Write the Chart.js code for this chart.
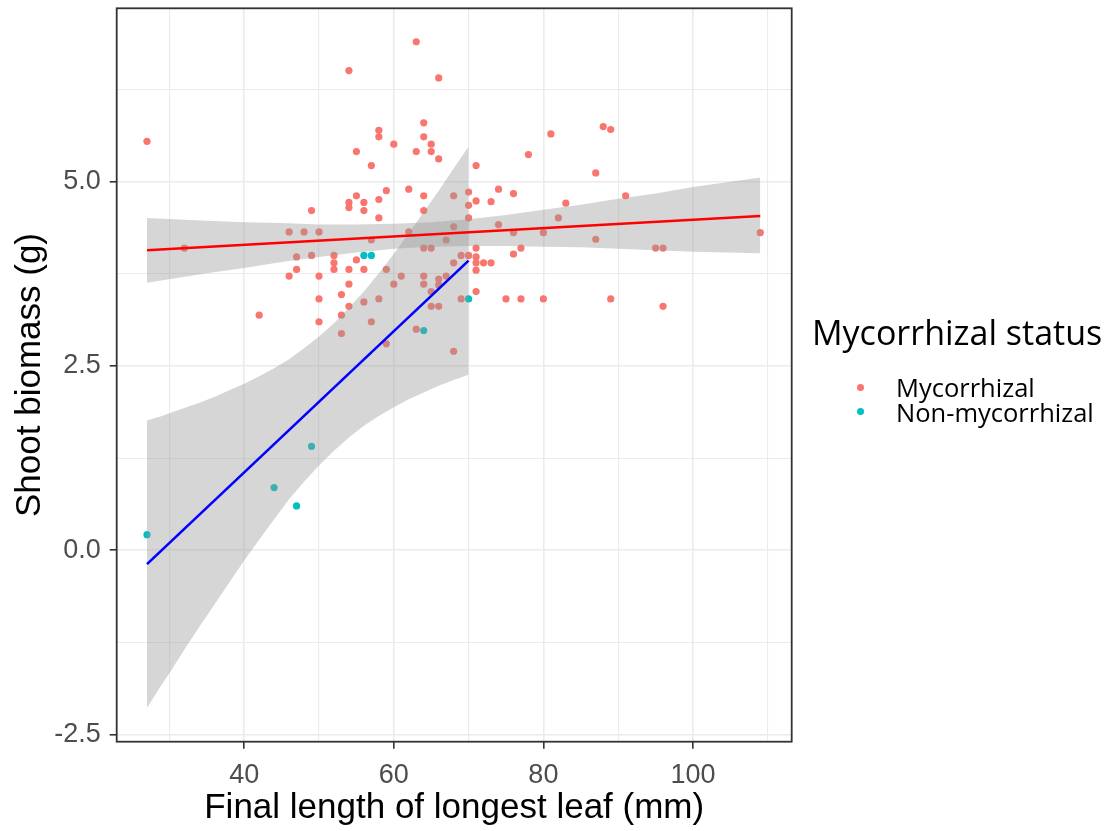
<!DOCTYPE html>
<html>
<head>
<meta charset="utf-8">
<title>Shoot biomass vs final length of longest leaf</title>
<script src="https://cdn.jsdelivr.net/npm/chart.js@4/dist/chart.umd.min.js"></script>
<style>
  html, body { margin: 0; padding: 0; background: #ffffff; }
  #wrap { position: relative; width: 1104px; height: 831px; overflow: hidden; }
  #chart { position: absolute; left: 0; top: 0; }
  #legend { position: absolute; left: 0; top: 0; width: 1104px; height: 831px; pointer-events: none;
            font-family: "Open Sans", "Noto Sans", sans-serif; color: #000000; }
  #legend .title { position: absolute; left: 812px; top: 315px; font-size: 34px; line-height: 34px; white-space: nowrap; }
  #legend .item { position: absolute; left: 896px; font-size: 25.5px; line-height: 25.5px; white-space: nowrap; }
  #legend .dot { position: absolute; width: 7px; height: 7px; border-radius: 50%; }
</style>
</head>
<body>
<div id="wrap">
  <canvas id="chart" width="1104" height="831"></canvas>
  <div id="legend"></div>
</div>
<script>
// Group names and colours
const groupNames = ['Mycorrhizal', 'Non-mycorrhizal'];
const groupColours = ['#F8766D', '#00BFC4'];
const legendTitle = 'Mycorrhizal status';

// Mycorrhizal plants: final leaf length (mm) and shoot biomass (g)
const mycLeaf = [27, 32, 42, 46, 46, 47, 47, 48, 49, 49, 50, 50, 50, 50, 52, 52, 52, 53, 53, 53,
  54, 54, 54, 54, 54, 54, 55, 55, 55, 56, 56, 56, 56, 57, 57, 57, 58, 58, 58, 58, 58, 59, 59, 59,
  60, 60, 61, 62, 62, 63, 63, 63, 64, 64, 64, 64, 64, 64, 64, 65, 65, 65, 65, 65, 66, 66, 66, 66, 66,
  67, 67, 68, 68, 68, 68, 69, 69, 70, 70, 70, 70, 71, 71, 71, 71, 71, 71, 71, 72, 73, 73, 74, 74,
  75, 76, 76, 76, 77, 77, 78, 80, 80, 81, 82, 83, 87, 87, 88, 89, 89, 91, 95, 96, 96, 109];
const mycBiomass = [5.55, 4.10, 3.19, 4.32, 3.72, 3.98, 3.81, 4.32, 4.61, 4.00, 4.32, 3.72, 3.41, 3.10, 4.00, 3.90, 3.81, 3.47, 3.19, 2.94,
  6.51, 4.72, 4.65, 3.81, 3.61, 3.31, 5.41, 4.81, 3.94, 4.72, 4.61, 3.81, 3.37, 5.22, 4.21, 3.10, 5.70, 5.61, 4.76, 4.51, 3.41, 4.88, 3.81, 2.80,
  5.51, 3.61, 3.72, 4.90, 4.32, 6.90, 5.41, 3.00, 5.80, 5.61, 4.81, 4.61, 4.10, 3.72, 3.61, 5.51, 5.41, 4.10, 3.51, 3.31, 6.41, 5.31, 3.68, 3.60, 3.31,
  4.21, 3.72, 4.81, 4.39, 3.90, 2.70, 4.00, 3.41, 4.86, 4.68, 4.51, 4.00, 5.22, 4.74, 4.10, 3.98, 3.90, 3.80, 3.51, 3.90, 4.73, 3.90, 4.90, 4.42,
  3.41, 4.84, 4.31, 4.02, 4.10, 3.41, 5.37, 4.31, 3.41, 5.65, 4.51, 4.71, 5.12, 4.22, 5.75, 5.71, 3.41, 4.81, 4.10, 4.10, 3.31, 4.31];

// Non-mycorrhizal plants
const nonLeaf = [27, 44, 47, 49, 56, 57, 64, 70];
const nonBiomass = [0.21, 0.85, 0.60, 1.41, 4.00, 4.00, 2.98, 3.41];

// Fitted linear trends (end points) for each group
const mycFitLeaf = [27, 109];
const mycFitBiomass = [4.07, 4.535];
const nonFitLeaf = [27, 70];
const nonFitBiomass = [-0.19, 3.93];

// Confidence bands around the fitted trends
const mycBandLeaf = [27, 35, 40, 45, 50, 55, 60, 65, 70, 75, 80, 85, 90, 95, 100, 109];
const mycBandUpper = [4.51, 4.47, 4.45, 4.44, 4.42, 4.42, 4.43, 4.45, 4.49, 4.55, 4.62, 4.69, 4.77, 4.84, 4.93, 5.06];
const mycBandLower = [3.63, 3.76, 3.83, 3.91, 3.98, 4.04, 4.09, 4.12, 4.13, 4.13, 4.12, 4.11, 4.09, 4.07, 4.05, 4.03];
const nonBandLeaf = [27, 28, 29, 30, 32, 34, 36, 38, 40, 42, 44, 46, 48, 50, 52, 54, 56, 58, 60, 62, 64, 66, 68, 70];
const nonBandUpper = [1.76, 1.79, 1.82, 1.86, 1.93, 2.00, 2.08, 2.17, 2.26, 2.36, 2.47, 2.59, 2.74, 2.90, 3.08, 3.29,
  3.51, 3.76, 4.02, 4.30, 4.59, 4.88, 5.18, 5.48];
const nonBandLower = [-2.14, -1.98, -1.82, -1.67, -1.35, -1.04, -0.74, -0.44, -0.14, 0.14, 0.42, 0.69, 0.93, 1.15, 1.35, 1.53,
  1.69, 1.82, 1.94, 2.05, 2.14, 2.23, 2.31, 2.38];

// Axis ticks
const xMajorTicks = [40, 60, 80, 100];
const xMinorTicks = [30, 50, 70, 90, 110];
const xTickLabels = ['40', '60', '80', '100'];
const yMajorTicks = [-2.5, 0, 2.5, 5];
const yMinorTicks = [-1.25, 1.25, 3.75, 6.25];
const yTickLabels = ['-2.5', '0.0', '2.5', '5.0'];
const xTitle = 'Final length of longest leaf (mm)';
const yTitle = 'Shoot biomass (g)';

const toPoints = (xs, ys) => xs.map((x, i) => ({ x: x, y: ys[i] }));
const isMajor = (list, v) => list.some(t => Math.abs(t - v) < 1e-9);

const bandFill = 'rgba(153,153,153,0.4)';
const clear = 'rgba(0,0,0,0)';
const gridColour = '#EBEBEB';
const axisDark = '#333333';

// Full frame around the plotting panel
const panelBorder = {
  id: 'panelBorder',
  afterDraw(chart) {
    const { ctx, chartArea: a } = chart;
    ctx.save();
    ctx.strokeStyle = axisDark;
    ctx.lineWidth = 1.8;
    ctx.strokeRect(a.left, a.top, a.right - a.left, a.bottom - a.top);
    ctx.restore();
  }
};

// Fixed axis sizes, without extra room for overhanging tick labels
function fixAxisSize(scale) {
  if (scale.isHorizontal()) { scale.height = 89.3; } else { scale.width = 116.7; }
  scale.paddingTop = 0;
  scale.paddingBottom = 0;
  scale.paddingLeft = 0;
  scale.paddingRight = 0;
}

const lineBase = { type: 'line', pointRadius: 0, pointHoverRadius: 0, tension: 0 };

new Chart(document.getElementById('chart'), {
  type: 'scatter',
  data: {
    datasets: [
      { label: groupNames[0], data: toPoints(mycLeaf, mycBiomass), backgroundColor: groupColours[0],
        borderColor: clear, borderWidth: 0, pointRadius: 3.6, pointHoverRadius: 3.6, order: 5 },
      { label: groupNames[1], data: toPoints(nonLeaf, nonBiomass), backgroundColor: groupColours[1],
        borderColor: clear, borderWidth: 0, pointRadius: 3.6, pointHoverRadius: 3.6, order: 5 },
      Object.assign({}, lineBase, { label: 'mycBandUpper', data: toPoints(mycBandLeaf, mycBandUpper),
        fill: '+1', backgroundColor: bandFill, borderColor: clear, borderWidth: 0, order: 3 }),
      Object.assign({}, lineBase, { label: 'mycBandLower', data: toPoints(mycBandLeaf, mycBandLower),
        fill: false, borderColor: clear, borderWidth: 0, order: 3 }),
      Object.assign({}, lineBase, { label: 'nonBandUpper', data: toPoints(nonBandLeaf, nonBandUpper),
        fill: '+1', backgroundColor: bandFill, borderColor: clear, borderWidth: 0, order: 3 }),
      Object.assign({}, lineBase, { label: 'nonBandLower', data: toPoints(nonBandLeaf, nonBandLower),
        fill: false, borderColor: clear, borderWidth: 0, order: 3 }),
      Object.assign({}, lineBase, { label: 'mycFit', data: toPoints(mycFitLeaf, mycFitBiomass),
        fill: false, borderColor: '#FF0000', borderWidth: 2.6, order: 1 }),
      Object.assign({}, lineBase, { label: 'nonFit', data: toPoints(nonFitLeaf, nonFitBiomass),
        fill: false, borderColor: '#0000FF', borderWidth: 2.6, order: 1 })
    ]
  },
  options: {
    responsive: false,
    animation: false,
    events: [],
    layout: { padding: { top: 8.3, right: 312.3, bottom: 0, left: 0 } },
    plugins: {
      legend: { display: false },
      tooltip: { enabled: false },
      filler: { propagate: false }
    },
    scales: {
      x: {
        type: 'linear',
        position: 'bottom',
        min: 22.95,
        max: 113.2,
        afterBuildTicks(scale) {
          scale.ticks = xMajorTicks.concat(xMinorTicks).sort((a, b) => a - b).map(v => ({ value: v }));
        },
        afterFit: fixAxisSize,
        border: { display: false },
        grid: {
          drawTicks: true,
          tickLength: 7,
          color: c => gridColour,
          lineWidth: c => (isMajor(xMajorTicks, c.tick.value) ? 1.6 : 1.1),
          tickColor: c => (isMajor(xMajorTicks, c.tick.value) ? axisDark : clear),
          tickWidth: 1.6
        },
        ticks: {
          autoSkip: false,
          maxRotation: 0,
          padding: 11,
          color: '#4D4D4D',
          font: { family: '"Liberation Sans", Arial, sans-serif', size: 27 },
          callback: v => { const i = xMajorTicks.indexOf(v); return i >= 0 ? xTickLabels[i] : ''; }
        },
        title: {
          display: true,
          text: xTitle,
          color: '#000000',
          font: { family: '"Liberation Sans", Arial, sans-serif', size: 35 },
          padding: { top: 0, bottom: 2 }
        }
      },
      y: {
        type: 'linear',
        position: 'left',
        min: -2.60,
        max: 7.355,
        afterBuildTicks(scale) {
          scale.ticks = yMajorTicks.concat(yMinorTicks).sort((a, b) => a - b).map(v => ({ value: v }));
        },
        afterFit: fixAxisSize,
        border: { display: false },
        grid: {
          drawTicks: true,
          tickLength: 7,
          color: c => gridColour,
          lineWidth: c => (isMajor(yMajorTicks, c.tick.value) ? 1.6 : 1.1),
          tickColor: c => (isMajor(yMajorTicks, c.tick.value) ? axisDark : clear),
          tickWidth: 1.6
        },
        ticks: {
          autoSkip: false,
          padding: 9,
          color: '#4D4D4D',
          font: { family: '"Liberation Sans", Arial, sans-serif', size: 27 },
          callback: v => { const i = yMajorTicks.findIndex(t => Math.abs(t - v) < 1e-9); return i >= 0 ? yTickLabels[i] : ''; }
        },
        title: {
          display: true,
          text: yTitle,
          color: '#000000',
          font: { family: '"Liberation Sans", Arial, sans-serif', size: 35 },
          padding: { top: 9, bottom: 0 }
        }
      }
    }
  },
  plugins: [panelBorder]
});

// Legend for the two groups
(function buildLegend() {
  const box = document.getElementById('legend');
  const title = document.createElement('div');
  title.className = 'title';
  title.textContent = legendTitle;
  box.appendChild(title);
  const itemTops = [375, 400];
  const dotCentres = [387, 411];
  groupNames.forEach((name, i) => {
    const dot = document.createElement('div');
    dot.className = 'dot';
    dot.style.background = groupColours[i];
    dot.style.left = (860 - 3.5) + 'px';
    dot.style.top = (dotCentres[i] - 3.5) + 'px';
    box.appendChild(dot);
    const item = document.createElement('div');
    item.className = 'item';
    item.style.top = itemTops[i] + 'px';
    item.textContent = name;
    box.appendChild(item);
  });
})();
</script>
</body>
</html>
